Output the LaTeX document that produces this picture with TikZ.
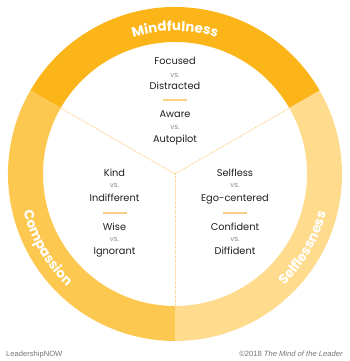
\documentclass[tikz,border=0pt]{standalone}
\usepackage{fontspec}
\setmainfont{Poppins}
\newfontfamily\footfont{Liberation Sans}
\usetikzlibrary{calc,decorations.text}

\definecolor{mindCol}{HTML}{FBB519}
\definecolor{compCol}{HTML}{FDC84F}
\definecolor{selfCol}{HTML}{FEDB8D}
\definecolor{lineCol}{HTML}{FDCF85}
\definecolor{inkCol}{HTML}{1E1E1E}
\definecolor{greyCol}{HTML}{8A8A8A}

\begin{document}
\begin{tikzpicture}[x=1pt,y=1pt,
  word/.style={anchor=base,text=inkCol,font=\fontsize{9.8}{11}\selectfont,inner sep=0pt},
  vs/.style={anchor=base,text=greyCol,font=\fontsize{7.2}{8}\selectfont,inner sep=0pt},
  sep/.style={draw=lineCol,line width=1.1pt},
  divider/.style={draw=lineCol,line width=1pt,dash pattern=on 1.2pt off 1.3pt},
  foot/.style={anchor=base,text=greyCol!85!black,font=\footfont\fontsize{7.6}{9}\selectfont,inner sep=0pt}
]
\useasboundingbox (0,0) rectangle (350,361);
\coordinate (c) at (175,187);

% ring sectors
\fill[mindCol] ($(c)+(30:167)$) arc[start angle=30,end angle=150,radius=167]
  -- ($(c)+(150:132)$) arc[start angle=150,end angle=30,radius=132] -- cycle;
\fill[compCol] ($(c)+(150:167)$) arc[start angle=150,end angle=270,radius=167]
  -- ($(c)+(270:132)$) arc[start angle=270,end angle=150,radius=132] -- cycle;
\fill[selfCol] ($(c)+(270:167)$) arc[start angle=270,end angle=390,radius=167]
  -- ($(c)+(30:132)$) arc[start angle=30,end angle=-90,radius=132] -- cycle;

% ring labels
\path[decorate,decoration={text along path,text align=center,text color=white,
  text={|\bfseries\fontsize{13.5}{15}\selectfont|Mindfulness}}]
  ($(c)+(150:143)$) arc[start angle=150,end angle=30,radius=143];
\path[decorate,decoration={text along path,text align=center,text color=white,
  text={|\bfseries\fontsize{13.5}{15}\selectfont|Compassion}}]
  ($(c)+(150:156)$) arc[start angle=150,end angle=270,radius=156];
\path[decorate,decoration={text along path,text align=center,text color=white,
  text={|\bfseries\fontsize{13.5}{15}\selectfont|Selflessness}}]
  ($(c)+(270:156)$) arc[start angle=270,end angle=390,radius=156];

% dividers
\coordinate (dM) at ($(c)+(150:132)$);
\coordinate (dS) at ($(c)+(30:132)$);
\coordinate (dB) at ($(c)+(270:132)$);
\draw[divider] (c) -- (dM);
\draw[divider] (c) -- (dS);
\draw[divider] (c) -- (dB);

% mindfulness pairs
\node[word] (focused) at (175,296) {Focused};
\node[vs] (vs1) at (175,283) {vs.};
\node[word] (distracted) at (175,271) {Distracted};
\coordinate (s1a) at (163,261);
\coordinate (s1b) at (187,261);
\draw[sep] (s1a) -- (s1b);
\node[word] (aware) at (175,243) {Aware};
\node[vs] (vs2) at (175,231) {vs.};
\node[word] (autopilot) at (175,218) {Autopilot};

% compassion pairs
\node[word] (kind) at (114.5,184) {Kind};
\node[vs] (vs3) at (114.5,173) {vs.};
\node[word] (indifferent) at (114.5,159) {Indifferent};
\coordinate (s2a) at (103,148);
\coordinate (s2b) at (127,148);
\draw[sep] (s2a) -- (s2b);
\node[word] (wise) at (114.5,130) {Wise};
\node[vs] (vs4) at (114.5,119) {vs.};
\node[word] (ignorant) at (114.5,106) {Ignorant};

% selflessness pairs
\node[word] (selfless) at (235,184) {Selfless};
\node[vs] (vs5) at (235,173) {vs.};
\node[word] (ego) at (235,159) {Ego-centered};
\coordinate (s3a) at (223,148);
\coordinate (s3b) at (247,148);
\draw[sep] (s3a) -- (s3b);
\node[word] (confident) at (235,130) {Confident};
\node[vs] (vs6) at (235,119) {vs.};
\node[word] (diffident) at (235,106) {Diffident};

% footer
\node[foot,anchor=base west] (brand) at (6,5) {LeadershipNOW};
\node[foot,anchor=base east] (credit) at (343,5) {\textcopyright2018 \textit{The Mind of the Leader}};
\end{tikzpicture}
\end{document}
